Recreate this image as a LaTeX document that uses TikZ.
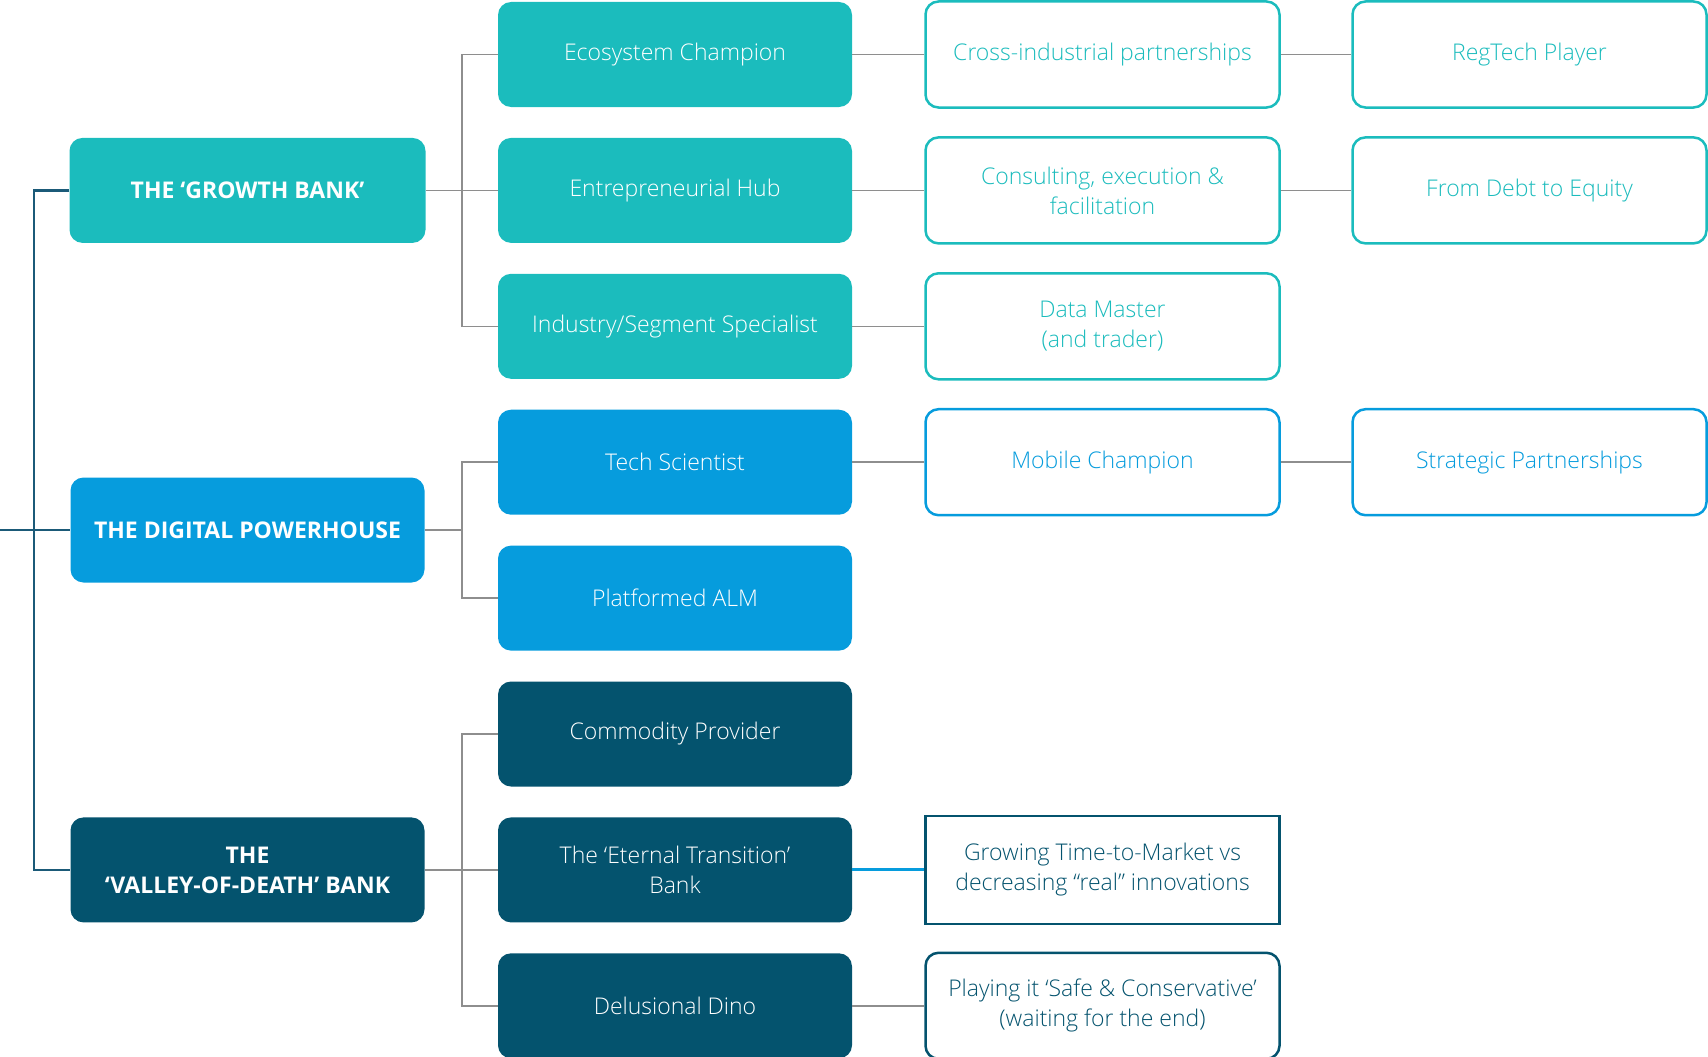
\documentclass[tikz,border=0pt]{standalone}
\usepackage{fontspec}
\setmainfont{Open Sans}
\newfontfamily\lightf{Open Sans Light}
\definecolor{tealc}{HTML}{1BBCBD}
\definecolor{bluec}{HTML}{069CDD}
\definecolor{darkc}{HTML}{04536E}
\definecolor{grayc}{HTML}{8E8E8E}
\definecolor{trunkc}{HTML}{1B5A78}
\begin{document}
\begin{tikzpicture}[x=1pt,y=-1pt,
  base/.style={rounded corners=13pt, minimum width=354pt, minimum height=105pt, inner sep=0pt, align=center, font=\lightf\fontsize{23}{30}\selectfont},
  fbox/.style={base, text=white},
  hbox/.style={fbox, font=\bfseries\fontsize{23}{30}\selectfont},
  obox/.style={base, fill=white, line width=2.5pt, minimum height=106pt},
  conn/.style={draw=grayc, line width=1.6pt},
  trunk/.style={draw=trunkc, line width=2.6pt},
  bconn/.style={draw=bluec, line width=3pt}]
\useasboundingbox (0,0) rectangle (1708,1057);
% level 1
\node[hbox, fill=tealc, minimum width=356pt] (growth) at (247.5,190.4) {THE ‘GROWTH BANK’};
\node[hbox, fill=bluec, minimum width=354pt] (digital) at (247.5,530) {THE DIGITAL POWERHOUSE};
\node[hbox, fill=darkc, minimum width=354pt] (valley) at (247.5,869.9) {THE\\‘VALLEY-OF-DEATH’ BANK};
% level 2
\node[fbox, fill=tealc] (eco) at (675,54.5) {Ecosystem Champion};
\node[fbox, fill=tealc] (entre) at (675,190.4) {Entrepreneurial Hub};
\node[fbox, fill=tealc] (ind) at (675,326.3) {Industry/Segment Specialist};
\node[fbox, fill=bluec] (tech) at (675,462.2) {Tech Scientist};
\node[fbox, fill=bluec] (alm) at (675,598.1) {Platformed ALM};
\node[fbox, fill=darkc] (comm) at (675,734) {Commodity Provider};
\node[fbox, fill=darkc] (etern) at (675,869.9) {The ‘Eternal Transition’\\Bank};
\node[fbox, fill=darkc] (dino) at (675,1005.8) {Delusional Dino};
% level 3
\node[obox, draw=tealc, text=tealc] (cross) at (1102.5,54.5) {Cross-industrial partnerships};
\node[obox, draw=tealc, text=tealc] (cons) at (1102.5,190.4) {Consulting, execution \&\\facilitation};
\node[obox, draw=tealc, text=tealc] (data) at (1102.5,326.3) {Data Master\\(and trader)};
\node[obox, draw=bluec, text=bluec] (mob) at (1102.5,462.2) {Mobile Champion};
\node[obox, draw=darkc, text=darkc, rounded corners=0pt, minimum height=108pt] (grow) at (1102.5,869.9) {Growing Time-to-Market vs\\decreasing “real” innovations};
\node[obox, draw=darkc, text=darkc] (play) at (1102.5,1005.8) {Playing it ‘Safe \& Conservative’\\(waiting for the end)};
% level 4
\node[obox, draw=tealc, text=tealc] (reg) at (1529.5,54.5) {RegTech Player};
\node[obox, draw=tealc, text=tealc] (debt) at (1529.5,190.4) {From Debt to Equity};
\node[obox, draw=bluec, text=bluec] (strat) at (1529.5,462.2) {Strategic Partnerships};
% trunk
\coordinate (tr) at (34,0);
\coordinate (lft) at (0,530);
\draw[trunk] (growth.west) -- (growth.west -| tr) -- (valley.west -| tr) -- (valley.west);
\draw[trunk] (lft) -- (digital.west);
% branches
\coordinate (bx) at (462,0);
\foreach \p/\c in {growth/eco, growth/entre, growth/ind, digital/tech, digital/alm, valley/comm, valley/etern, valley/dino}
  \draw[conn] (\c.west) -- (\c.west -| bx) |- (\p.east);
\draw[conn] (eco) -- (cross);
\draw[conn] (entre) -- (cons);
\draw[conn] (ind) -- (data);
\draw[conn] (tech) -- (mob);
\draw[conn] (dino) -- (play);
\draw[conn] (cross) -- (reg);
\draw[conn] (cons) -- (debt);
\draw[conn] (mob) -- (strat);
\draw[bconn] (etern) -- (grow);
\end{tikzpicture}
\end{document}
